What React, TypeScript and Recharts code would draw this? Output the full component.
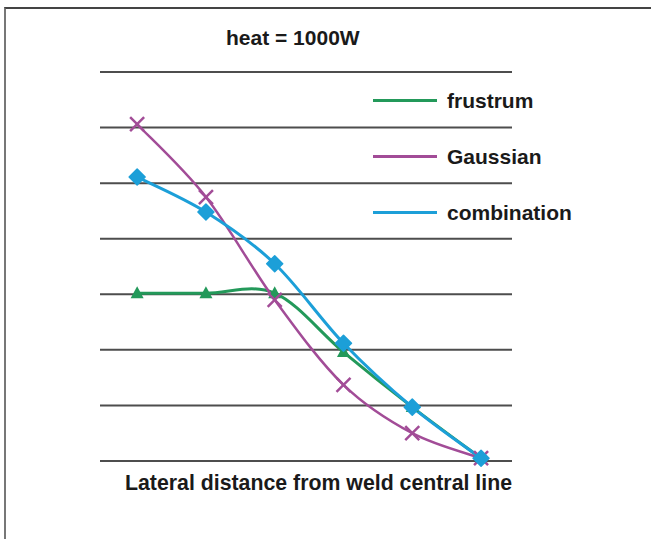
import React from "react"
import { LineChart, Line, XAxis, YAxis, CartesianGrid } from "recharts"

// positions along the lateral axis (unlabelled in the source)
const positions = [1, 2, 3, 4, 5, 6]
const frustrum = [3.02, 3.02, 3.02, 1.96, 0.97, 0.05]
const gaussian = [6.06, 4.75, 2.9, 1.37, 0.5, 0.05]
const combination = [5.11, 4.48, 3.55, 2.12, 0.97, 0.05]
const yTicks = [0, 1, 2, 3, 4, 5, 6, 7]

const GREEN = "#23995a"
const PURPLE = "#a24c97"
const BLUE = "#1c9fd8"

const data = positions.map((x, i) => ({
  x,
  frustrum: frustrum[i],
  gaussian: gaussian[i],
  combination: combination[i],
}))

const legendItems = [
  { name: "frustrum", color: GREEN },
  { name: "Gaussian", color: PURPLE },
  { name: "combination", color: BLUE },
]

// Excel-like smoothed line (Catmull-Rom through the points)
const smooth = (context: any) => {
  let pts: [number, number][] = []
  return {
    areaStart() {},
    areaEnd() {},
    lineStart() {
      pts = []
    },
    lineEnd() {
      if (!pts.length) return
      context.moveTo(pts[0][0], pts[0][1])
      for (let i = 0; i < pts.length - 1; i++) {
        const p0 = pts[Math.max(i - 1, 0)]
        const p1 = pts[i]
        const p2 = pts[i + 1]
        const p3 = pts[Math.min(i + 2, pts.length - 1)]
        const t = 1 / 6
        context.bezierCurveTo(
          p1[0] + (p2[0] - p0[0]) * t,
          p1[1] + (p2[1] - p0[1]) * t,
          p2[0] - (p3[0] - p1[0]) * t,
          p2[1] - (p3[1] - p1[1]) * t,
          p2[0],
          p2[1]
        )
      }
    },
    point(x: number, y: number) {
      pts.push([x, y])
    },
  }
}

const TriangleDot = (props: any) => {
  const { cx, cy, index } = props
  return (
    <polygon
      key={`t-${index}`}
      points={`${cx},${cy - 7} ${cx - 6.5},${cy + 5} ${cx + 6.5},${cy + 5}`}
      fill={GREEN}
    />
  )
}

const CrossDot = (props: any) => {
  const { cx, cy, index } = props
  const r = 7
  return (
    <g key={`c-${index}`} stroke={PURPLE} strokeWidth={2.5}>
      <line x1={cx - r} y1={cy - r} x2={cx + r} y2={cy + r} />
      <line x1={cx - r} y1={cy + r} x2={cx + r} y2={cy - r} />
    </g>
  )
}

const DiamondDot = (props: any) => {
  const { cx, cy, index } = props
  const r = 8
  return (
    <polygon
      key={`d-${index}`}
      points={`${cx},${cy - r} ${cx + r},${cy} ${cx},${cy + r} ${cx - r},${cy}`}
      fill={BLUE}
      stroke={BLUE}
      strokeWidth={1.5}
      strokeLinejoin="round"
    />
  )
}

const textStyle: React.CSSProperties = {
  position: "absolute",
  fontFamily: "'Liberation Sans', Arial, sans-serif",
  fontWeight: "bold",
  fontSize: 21,
  lineHeight: "21px",
  color: "#1a1a1a",
  whiteSpace: "nowrap",
}

export default function App() {
  return (
    <div
      style={{
        position: "absolute",
        left: 0,
        top: 0,
        width: 651,
        height: 539,
        background: "#fff",
        fontFamily: "'Liberation Sans', Arial, sans-serif",
      }}
    >
      <div
        style={{
          position: "absolute",
          left: 4,
          top: 7,
          right: 0,
          bottom: 0,
          borderTop: "2px solid #444",
          borderLeft: "2px solid #777",
        }}
      />
      <div style={{ ...textStyle, left: 226, top: 27 }}>heat = 1000W</div>
      <div style={{ ...textStyle, left: 125, top: 473, fontSize: 21.3 }}>
        Lateral distance from weld central line
      </div>
      <div style={{ position: "absolute", left: 0, top: 0 }}>
        <LineChart width={651} height={539} data={data} margin={{ top: 72, right: 139, bottom: 78, left: 100 }}>
          <CartesianGrid vertical={false} stroke="#4d4d4d" strokeWidth={2} />
          <XAxis dataKey="x" type="number" domain={[0.46, 6.45]} hide />
          <YAxis type="number" domain={[0, 7]} ticks={yTicks} hide />
          <Line
            dataKey="frustrum"
            type={smooth as any}
            stroke={GREEN}
            strokeWidth={3}
            dot={TriangleDot}
            activeDot={false}
            isAnimationActive={false}
          />
          <Line
            dataKey="gaussian"
            type={smooth as any}
            stroke={PURPLE}
            strokeWidth={2.5}
            dot={CrossDot}
            activeDot={false}
            isAnimationActive={false}
          />
          <Line
            dataKey="combination"
            type={smooth as any}
            stroke={BLUE}
            strokeWidth={3}
            dot={DiamondDot}
            activeDot={false}
            isAnimationActive={false}
          />
        </LineChart>
      </div>
      <div style={{ position: "absolute", left: 373, top: 72 }}>
        {legendItems.map((item) => (
          <div key={item.name} style={{ display: "flex", alignItems: "center", height: 56 }}>
            <div style={{ width: 64, height: 3, background: item.color, marginRight: 10 }} />
            <span style={{ fontSize: 21, fontWeight: "bold", color: "#1a1a1a", lineHeight: "21px" }}>
              {item.name}
            </span>
          </div>
        ))}
      </div>
    </div>
  )
}
